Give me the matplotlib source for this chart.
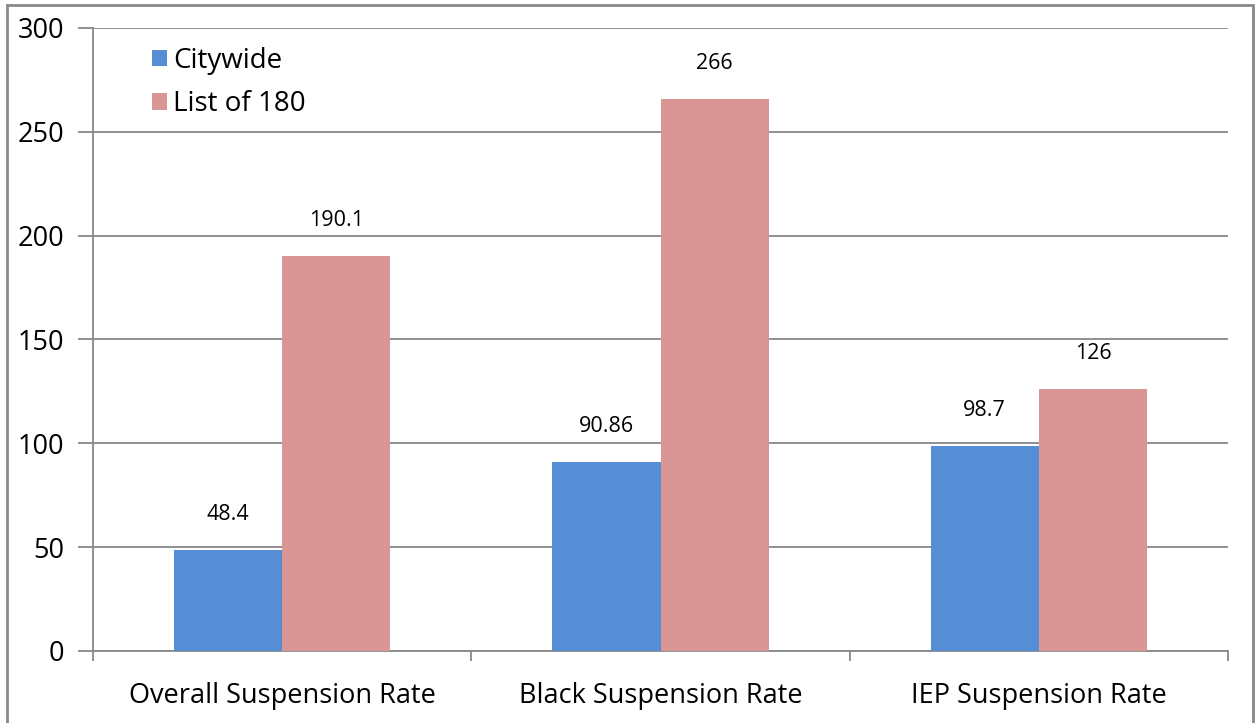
import matplotlib
matplotlib.use("Agg")
import matplotlib.pyplot as plt
import numpy as np
from matplotlib.patches import Rectangle

categories = ["Overall Suspension Rate", "Black Suspension Rate", "IEP Suspension Rate"]
citywide = [48.4, 90.86, 98.7]
list180 = [190.1, 266, 126]
citywide_labels = ["48.4", "90.86", "98.7"]
list180_labels = ["190.1", "266", "126"]

plt.rcParams['font.family'] = ['Open Sans', 'DejaVu Sans']

fig = plt.figure(figsize=(12.55, 7.23), dpi=100)
ax = fig.add_axes([0.0741, 0.0996, 0.9044, 0.8617])

grid_c = '#888888'
x = np.arange(len(categories))
w = 0.286
b1 = ax.bar(x - w / 2, citywide, w, color='#558ED5', label='Citywide', zorder=3)
b2 = ax.bar(x + w / 2, list180, w, color='#D99694', label='List of 180', zorder=3)

for bars, labs in ((b1, citywide_labels), (b2, list180_labels)):
    for r, t in zip(bars, labs):
        ax.annotate(t, (r.get_x() + r.get_width() / 2, r.get_height()),
                    xytext=(0, 18), textcoords='offset points',
                    ha='center', va='bottom', fontsize=15.5)

ax.set_xlim(-0.5, 2.5)
ax.set_ylim(0, 300)
ax.set_yticks(range(0, 301, 50))
ax.yaxis.grid(True, color=grid_c, linewidth=1.3, zorder=0)
ax.set_axisbelow(True)

# category labels between boundary ticks
ax.set_xticks([-0.5, 0.5, 1.5, 2.5])
ax.set_xticklabels([])
ax.set_xticks(x, minor=True)
ax.set_xticklabels(categories, minor=True, fontsize=19.5)
ax.tick_params(axis='x', which='minor', length=0, pad=22)
ax.tick_params(axis='x', which='major', length=7, color=grid_c, width=1.3)
ax.tick_params(axis='y', length=11, color=grid_c, width=1.3, labelsize=19.5, pad=10)

for s in ('top', 'right'):
    ax.spines[s].set_visible(False)
for s in ('left', 'bottom'):
    ax.spines[s].set_color(grid_c)
    ax.spines[s].set_linewidth(1.3)

ax.legend(loc='upper left', bbox_to_anchor=(0.03, 1.01), frameon=False,
          fontsize=20, handlelength=0.55, handleheight=0.55, handletextpad=0.2,
          labelspacing=0.55)

fig.patches.append(Rectangle((7 / 1255, -0.01), 1246 / 1255, 1 - 5 / 723 + 0.01,
                             transform=fig.transFigure, fill=False,
                             edgecolor=grid_c, linewidth=2))

fig.savefig('out.png', dpi=100)
